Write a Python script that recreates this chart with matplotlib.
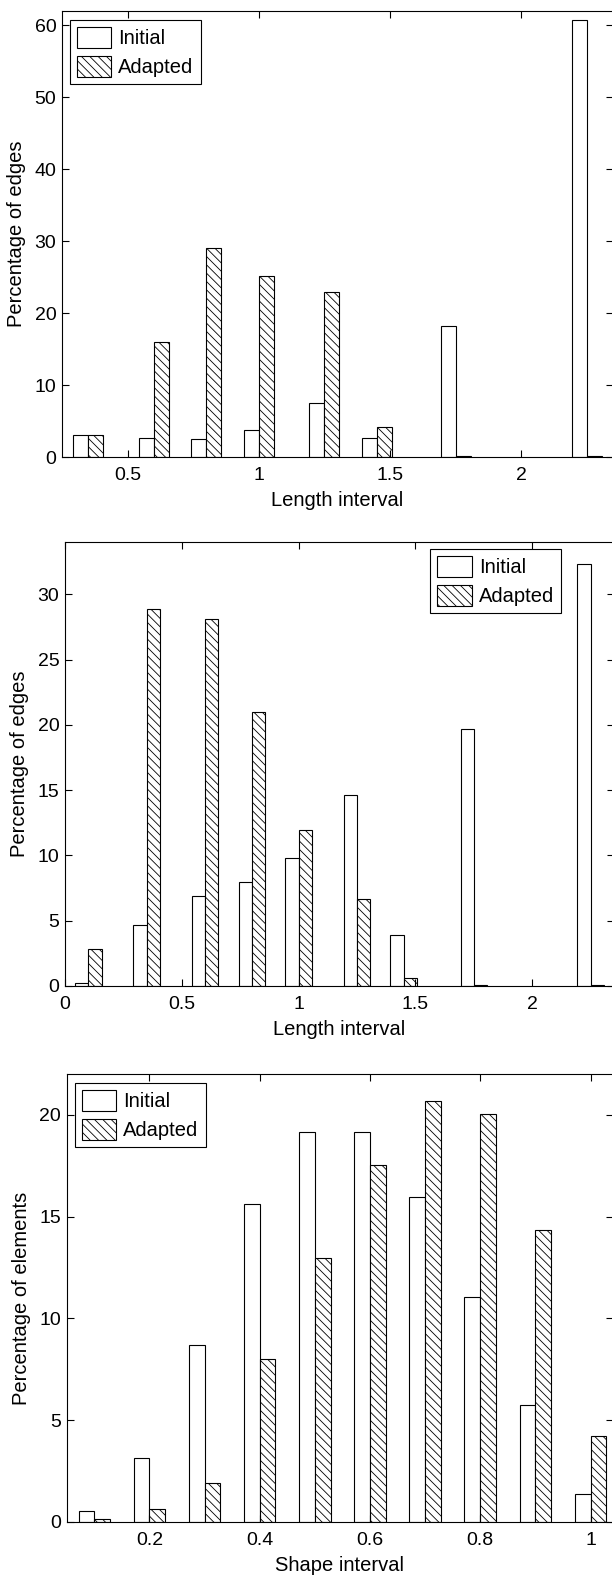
import numpy as np
import matplotlib
matplotlib.use('Agg')
import matplotlib.pyplot as plt

plt.rcParams['font.family'] = ['Liberation Sans', 'DejaVu Sans']
plt.rcParams['hatch.linewidth'] = 0.6

# data
len1_x = [0.35, 0.6, 0.8, 1.0, 1.25, 1.45, 1.75, 2.25]
len1_initial = [3.0, 2.7, 2.5, 3.7, 7.5, 2.7, 18.2, 60.7]
len1_adapted = [3.1, 16.0, 29.0, 25.1, 23.0, 4.2, 0.1, 0.1]

len2_x = [0.1, 0.35, 0.6, 0.8, 1.0, 1.25, 1.45, 1.75, 2.25]
len2_initial = [0.2, 4.65, 6.9, 8.0, 9.8, 14.6, 3.9, 19.7, 32.3]
len2_adapted = [2.8, 28.9, 28.1, 21.0, 11.95, 6.7, 0.65, 0.05, 0.05]

shape_x = [0.1, 0.2, 0.3, 0.4, 0.5, 0.6, 0.7, 0.8, 0.9, 1.0]
shape_initial = [0.54, 3.12, 8.7, 15.6, 19.15, 19.15, 15.95, 11.05, 5.75, 1.36]
shape_adapted = [0.14, 0.64, 1.93, 8.0, 12.94, 17.55, 20.65, 20.05, 14.35, 4.24]

W, H = 612, 1581
fig = plt.figure(figsize=(W / 100, H / 100), dpi=100)


def px_axes(left, top, right, bottom):
    # pixel box -> figure fraction
    return fig.add_axes([left / W, 1 - bottom / H, (right - left) / W, (bottom - top) / H])


def draw(ax, x, a, b, width, xlim, ylim, xticks, yticks, xlabel, ylabel, leg_loc, leg_anchor):
    x = np.array(x)
    ax.bar(x - width / 2, a, width, color='white', edgecolor='black', linewidth=0.8, label='Initial')
    ax.bar(x + width / 2, b, width, color='white', edgecolor='black', linewidth=0.8,
           hatch='\\\\\\\\', label='Adapted')
    ax.set_xlim(*xlim)
    ax.set_ylim(*ylim)
    ax.set_xticks(xticks)
    ax.set_xticklabels([('%g' % t) for t in xticks])
    ax.set_yticks(yticks)
    ax.tick_params(direction='in', top=True, right=True, length=5, width=0.8, labelsize=14)
    ax.tick_params(axis='x', pad=7)
    ax.tick_params(axis='y', pad=4)
    for s in ax.spines.values():
        s.set_linewidth(0.8)
    ax.set_xlabel(xlabel, fontsize=14.5, labelpad=5)
    ax.set_ylabel(ylabel, fontsize=14.5, labelpad=6)
    leg = ax.legend(loc=leg_loc, bbox_to_anchor=leg_anchor, borderaxespad=0, fancybox=False,
                    edgecolor='black', framealpha=1, fontsize=14.5, handlelength=1.7,
                    handleheight=1.2, handletextpad=0.35, borderpad=0.35, labelspacing=0.4)
    leg.get_frame().set_linewidth(0.8)


ax1 = px_axes(62, 11, 613, 457)
draw(ax1, len1_x, len1_initial, len1_adapted, 0.057, (0.25, 2.35), (0, 62),
     [0.5, 1, 1.5, 2], [0, 10, 20, 30, 40, 50, 60],
     'Length interval', 'Percentage of edges', 'upper left', (0.0145, 0.98))

ax2 = px_axes(65, 542, 614, 986)
draw(ax2, len2_x, len2_initial, len2_adapted, 0.057, (0, 2.35), (0, 34),
     [0, 0.5, 1, 1.5, 2], [0, 5, 10, 15, 20, 25, 30],
     'Length interval', 'Percentage of edges', 'upper right', (0.9035, 0.984))

ax3 = px_axes(66.7, 1074, 612.6, 1522)
draw(ax3, shape_x, shape_initial, shape_adapted, 0.0286, (0.05, 1.04), (0, 22),
     [0.2, 0.4, 0.6, 0.8, 1], [0, 5, 10, 15, 20],
     'Shape interval', 'Percentage of elements', 'upper left', (0.0152, 0.98))

fig.savefig('out.png', dpi=100)
